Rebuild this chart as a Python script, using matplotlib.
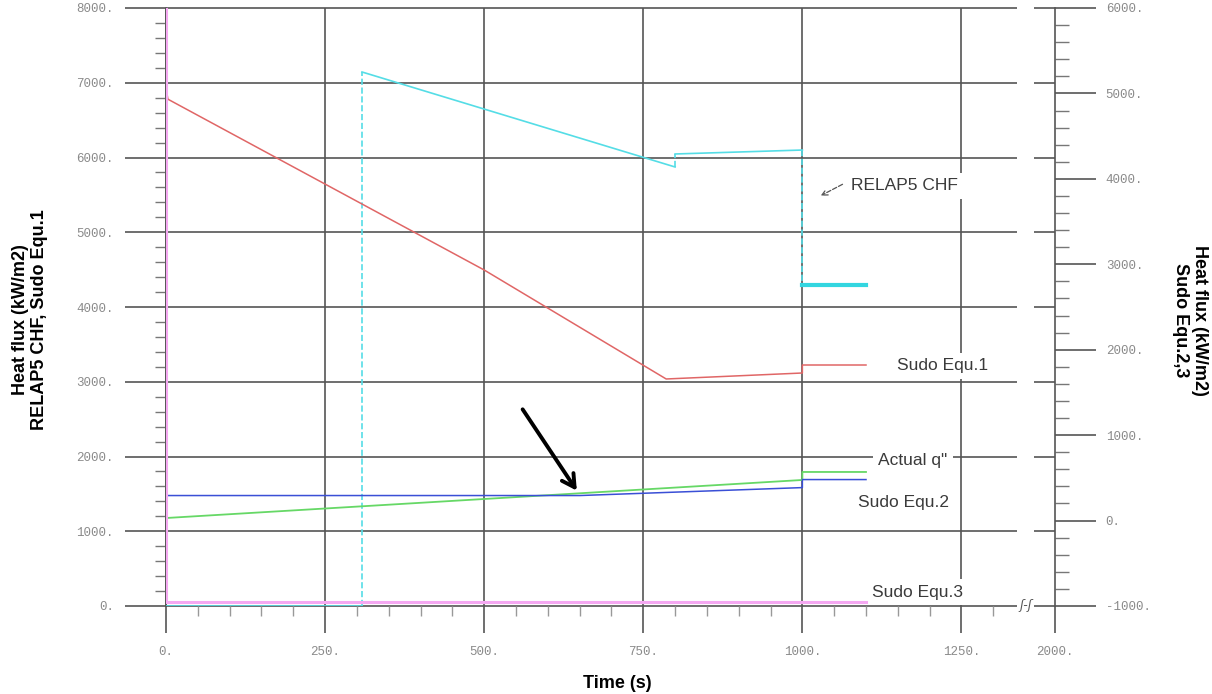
import matplotlib
matplotlib.use('Agg')
from matplotlib import pyplot as plt
from matplotlib.ticker import FixedLocator

# RELAP5 CHF (left axis, kW/m2)
chf_t = [0, 308, 308, 800, 800, 1000, 1000, 1000]
chf_q = [0, 0, 7144, 5873, 6047, 6100, 4670, 4294]
chf_tail_t = [1000, 1100]
chf_tail_q = [4294, 4294]

# Sudo Equ.1 (left axis)
eq1_t = [0, 3, 500, 786, 1000, 1000, 1100]
eq1_q = [6930, 6780, 4495, 3037, 3117, 3224, 3224]

# Actual q" (left axis)
act_t = [0, 1000, 1000, 1100]
act_q = [1177, 1686, 1793, 1793]

# Sudo Equ.2 and Equ.3 (right axis)
eq2_t = [0, 650, 1000, 1000, 1100]
eq2_q = [293, 293, 386, 480, 480]
eq3_t = [0, 0, 1100]
eq3_q = [6000, -955, -955]

x_ticks = [0, 250, 500, 750, 1000, 1250]
x_end = 1397          # axis end, drawn after the break
x_end_label = '2000.'
brk = (1338, 1364)    # gap in the grid lines for the axis break
left_ticks = list(range(0, 8001, 1000))
right_ticks = list(range(-1000, 6001, 1000))

gc = '#555555'
tick_col = '#8a8a8a'
mono = 'Liberation Mono'
sans = 'Liberation Sans'

fig = plt.figure(figsize=(12.12, 6.94), dpi=100)
ax = fig.add_axes([166/1212, 1-606/694, (1055-166)/1212, 598/694])
ax.set_xlim(0, x_end)
ax.set_ylim(0, 8000)
ax2 = ax.twinx()
ax2.set_ylim(-1000, 6000)

for s in ['top', 'bottom', 'right']:
    ax.spines[s].set_visible(False)
ax.spines['left'].set_color(gc)
ax.spines['left'].set_linewidth(1.2)
for s in ['top', 'bottom', 'left']:
    ax2.spines[s].set_visible(False)
ax2.spines['right'].set_color(gc)
ax2.spines['right'].set_linewidth(1.2)

# grid
ax.vlines(x_ticks, 0, 8000, color=gc, lw=1.2, zorder=1, clip_on=False)
for y in left_ticks:
    ax.hlines(y, 0, brk[0], color=gc, lw=1.2, zorder=1, clip_on=False)
    ax.hlines(y, brk[1], x_end, color=gc, lw=1.2, zorder=1, clip_on=False)
ax.text(sum(brk)/2, 0, 'ʃ-ʃ', ha='center', va='center', fontsize=9,
        style='italic', color=gc)

# ticks
ax.set_xticks(x_ticks + [x_end])
ax.set_xticklabels(['%d.' % v for v in x_ticks] + [x_end_label])
ax.xaxis.set_minor_locator(FixedLocator(
    [v for v in range(50, 1301, 50) if v not in x_ticks]))
ax.tick_params(axis='x', which='major', direction='out', length=19.5,
               width=1.2, color=gc, pad=9, labelsize=9,
               labelcolor=tick_col, labelfontfamily=mono)
ax.tick_params(axis='x', which='minor', direction='out', length=7,
               width=1, color='#999999')

ax.set_yticks(left_ticks)
ax.set_yticklabels(['%d.' % v for v in left_ticks])
ax.yaxis.set_minor_locator(FixedLocator(
    [v for v in range(200, 8000, 200) if v % 1000]))
ax.tick_params(axis='y', which='major', direction='out', length=29.5,
               width=1.2, color=gc, pad=8, labelsize=9,
               labelcolor=tick_col, labelfontfamily=mono)
ax.tick_params(axis='y', which='minor', direction='out', length=8,
               width=1, color='#777777')

ax2.set_yticks(right_ticks)
ax2.set_yticklabels(['%d.' % v for v in right_ticks])
ax2.yaxis.set_minor_locator(FixedLocator(
    [v for v in range(-800, 6000, 200) if v % 1000]))
ax2.tick_params(axis='y', which='major', direction='out', length=29.5,
                width=1.2, color=gc, pad=7, labelsize=9,
                labelcolor=tick_col, labelfontfamily=mono)
ax2.tick_params(axis='y', which='minor', direction='out', length=10,
                width=1, color='#777777')

# data
for i in range(len(chf_t) - 1):
    ls = '--' if chf_t[i] == chf_t[i+1] else '-'
    ax.plot(chf_t[i:i+2], chf_q[i:i+2], color='#55dde6', lw=1.2,
            ls=ls, zorder=3)
ax.plot(chf_tail_t, chf_tail_q, color='#33d6e0', lw=3, zorder=3)
ax.plot(eq1_t, eq1_q, color='#e06666', lw=1.1, zorder=3)
ax.plot(act_t, act_q, color='#66d866', lw=1.3, zorder=3)
ax2.plot(eq2_t, eq2_q, color='#3a4fd6', lw=1.1, zorder=3)
ax2.plot(eq3_t, eq3_q, color='#f5a8f2', lw=2.2, zorder=3)

# annotations
box = dict(fc='white', ec='none', pad=4)
lab = dict(fontsize=12.5, family=sans, color='#3a3a3a', ha='left',
           va='center', bbox=box, zorder=4)
ax.text(1077, 5619, 'RELAP5 CHF', **lab)
ax.text(1149, 3211, 'Sudo Equ.1', **lab)
ax.text(1119, 1953, 'Actual q"', **lab)
ax.text(1088, 1378, 'Sudo Equ.2', **lab)
ax.text(1110, 187, 'Sudo Equ.3', **lab)

ax.annotate('', xy=(1025, 5472), xytext=(1067, 5659),
            arrowprops=dict(arrowstyle='->', lw=0.9, color='#555555',
                            linestyle='--'))
ax.annotate('', xy=(648, 1512), xytext=(558, 2662),
            arrowprops=dict(arrowstyle='->,head_length=0.9,head_width=0.5',
                            lw=2.8, color='black'), zorder=5)

# axis titles
fig.text(30/1212, 1-320/694, 'Heat flux (kW/m2)\nRELAP5 CHF, Sudo Equ.1',
         rotation=90, ha='center', va='center', fontsize=13,
         weight='bold', family=sans, multialignment='center')
fig.text(1190/1212, 1-320/694, 'Heat flux (kW/m2)\nSudo Equ.2,3',
         rotation=270, ha='center', va='center', fontsize=13,
         weight='bold', family=sans, multialignment='center')
fig.text(617/1212, 1-683/694, 'Time (s)', ha='center', va='center',
         fontsize=13, weight='bold', family=sans)

fig.savefig('out.png', dpi=100)
